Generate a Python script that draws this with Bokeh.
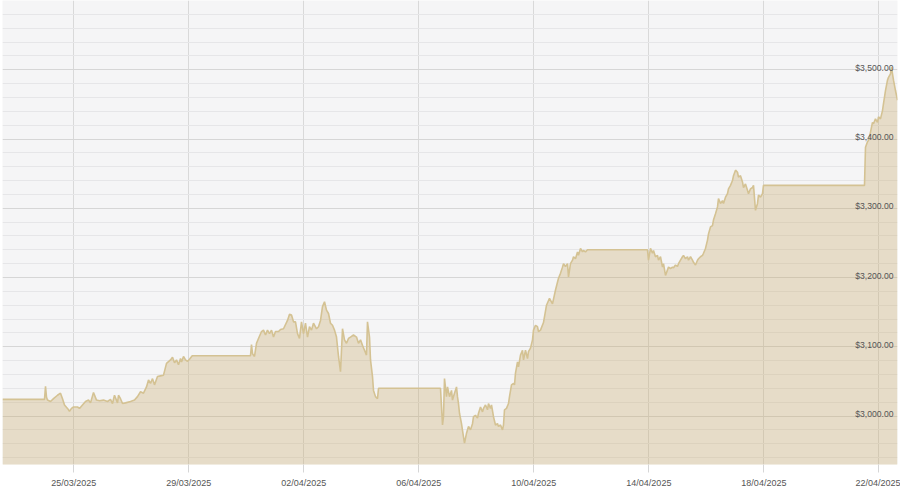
import pandas as pd
from bokeh.plotting import figure
from bokeh.models import Range1d, FixedTicker, DatetimeTickFormatter, Label, ColumnDataSource
from bokeh.embed import file_html
from bokeh.resources import INLINE

# ---------------- data ----------------
base_date = "2025-03-22"
# time of each sample, in days after base_date
day_offset = [
    0.520, 1.981, 2.016, 2.051, 2.085, 2.190, 2.294, 2.433, 2.537, 2.607,
    2.676, 2.781, 2.850, 2.920, 2.990, 3.129, 3.198, 3.302, 3.407, 3.511,
    3.581, 3.685, 3.789, 3.894, 4.033, 4.172, 4.276, 4.346, 4.415, 4.520,
    4.554, 4.624, 4.694, 4.798, 4.972, 5.111, 5.215, 5.320, 5.424, 5.528,
    5.598, 5.667, 5.737, 5.806, 5.911, 6.015, 6.120, 6.224, 6.363, 6.433,
    6.502, 6.572, 6.641, 6.711, 6.746, 6.815, 6.885, 6.954, 7.024, 7.118,
    9.145, 9.180, 9.215, 9.284, 9.354, 9.423, 9.528, 9.597, 9.667, 9.736,
    9.806, 9.876, 9.945, 10.015, 10.119, 10.189, 10.293, 10.432, 10.502, 10.571,
    10.641, 10.710, 10.780, 10.849, 10.919, 10.988, 11.058, 11.128, 11.197, 11.267,
    11.336, 11.441, 11.510, 11.580, 11.649, 11.719, 11.788, 11.858, 11.927, 11.997,
    12.067, 12.136, 12.206, 12.275, 12.345, 12.414, 12.484, 12.553, 12.623, 12.727,
    12.832, 12.901, 12.971, 13.040, 13.110, 13.179, 13.214, 13.284, 13.319, 13.388,
    13.423, 13.492, 13.562, 13.597, 15.753, 15.823, 15.857, 15.892, 15.962, 15.997,
    16.066, 16.136, 16.170, 16.240, 16.310, 16.344, 16.379, 16.414, 16.483, 16.553,
    16.588, 16.657, 16.727, 16.796, 16.866, 16.901, 16.970, 17.040, 17.075, 17.144,
    17.214, 17.249, 17.318, 17.388, 17.422, 17.492, 17.527, 17.596, 17.666, 17.735,
    17.770, 17.840, 17.909, 17.944, 17.979, 18.048, 18.118, 18.153, 18.222, 18.292,
    18.327, 18.361, 18.431, 18.466, 18.535, 18.605, 18.640, 18.709, 18.779, 18.813,
    18.883, 18.953, 18.987, 19.057, 19.126, 19.161, 19.231, 19.335, 19.440, 19.544,
    19.648, 19.753, 19.857, 19.926, 19.996, 20.031, 20.100, 20.170, 20.205, 20.274,
    20.344, 20.379, 20.448, 20.518, 20.552, 20.622, 20.692, 20.726, 20.796, 20.865,
    22.952, 22.987, 23.056, 23.126, 23.161, 23.230, 23.300, 23.335, 23.404, 23.474,
    23.509, 23.578, 23.648, 23.682, 23.752, 23.822, 23.856, 23.926, 23.995, 24.030,
    24.100, 24.169, 24.204, 24.274, 24.343, 24.378, 24.448, 24.517, 24.552, 24.621,
    24.691, 24.726, 24.795, 24.865, 24.900, 24.969, 25.039, 25.074, 25.143, 25.213,
    25.247, 25.317, 25.387, 25.421, 25.491, 25.560, 25.595, 25.665, 25.734, 25.769,
    25.839, 25.908, 25.943, 26.013, 26.082, 26.117, 26.186, 26.256, 26.291, 26.360,
    26.430, 26.465, 26.534, 26.604, 26.639, 26.708, 26.778, 26.812, 26.882, 26.952,
    26.986, 27.056, 30.499, 30.534, 30.603, 30.638, 30.708, 30.777, 30.812, 30.881,
    30.951, 30.986, 31.055, 31.125, 31.160, 31.229, 31.299, 31.334, 31.403, 31.438,
    31.473, 31.508, 31.577, 31.647,
]
price = [
    3024, 3024, 3043, 3027, 3023, 3021, 3025, 3030, 3033, 3025,
    3016, 3011, 3007, 3011, 3013, 3013, 3011, 3016, 3021, 3023,
    3019, 3034, 3023, 3022, 3023, 3021, 3024, 3018, 3030, 3019,
    3030, 3025, 3018, 3019, 3021, 3023, 3028, 3035, 3033, 3042,
    3052, 3047, 3054, 3045, 3057, 3058, 3059, 3076, 3081, 3085,
    3077, 3081, 3074, 3083, 3078, 3086, 3081, 3079, 3082, 3087,
    3087, 3103, 3090, 3086, 3105, 3112, 3122, 3124, 3117, 3124,
    3119, 3124, 3114, 3122, 3122, 3125, 3126, 3138, 3147, 3146,
    3136, 3136, 3119, 3112, 3136, 3119, 3134, 3114, 3129, 3124,
    3134, 3126, 3129, 3138, 3158, 3165, 3153, 3148, 3134, 3131,
    3124, 3114, 3086, 3064, 3126, 3110, 3105, 3112, 3114, 3117,
    3114, 3105, 3110, 3102, 3095, 3088, 3136, 3114, 3081, 3057,
    3037, 3028, 3025, 3040, 3040, 2987, 2999, 3054, 3028, 3042,
    3028, 3037, 3023, 3033, 3042, 3028, 3018, 3004, 2989, 2970,
    2961, 2975, 2985, 2980, 2989, 2999, 3001, 2997, 3004, 3013,
    3006, 3011, 3016, 3009, 3018, 3011, 3016, 2999, 2987, 2989,
    2985, 2987, 2980, 2987, 3009, 3011, 3018, 3028, 3045, 3047,
    3045, 3062, 3078, 3071, 3088, 3095, 3081, 3095, 3083, 3093,
    3098, 3110, 3124, 3131, 3129, 3122, 3124, 3135, 3160, 3170,
    3162, 3182, 3199, 3206, 3215, 3220, 3216, 3220, 3201, 3220,
    3225, 3230, 3227, 3237, 3232, 3242, 3237, 3239, 3237, 3240,
    3240, 3225, 3242, 3235, 3239, 3230, 3232, 3225, 3230, 3215,
    3220, 3203, 3211, 3215, 3213, 3215, 3214, 3218, 3216, 3220,
    3225, 3230, 3232, 3227, 3230, 3225, 3230, 3225, 3222, 3218,
    3225, 3227, 3230, 3232, 3235, 3242, 3254, 3263, 3273, 3275,
    3283, 3292, 3302, 3314, 3307, 3311, 3307, 3316, 3321, 3328,
    3333, 3340, 3347, 3355, 3352, 3345, 3347, 3338, 3330, 3335,
    3326, 3321, 3328, 3330, 3333, 3297, 3307, 3319, 3316, 3321,
    3333, 3333, 3333, 3388, 3396, 3398, 3410, 3424, 3422, 3429,
    3424, 3432, 3429, 3441, 3451, 3470, 3485, 3489, 3494, 3504,
    3494, 3485, 3470, 3456,
]

x_tick_labels = ["25/03/2025", "29/03/2025", "02/04/2025", "06/04/2025",
                 "10/04/2025", "14/04/2025", "18/04/2025", "22/04/2025"]
y_grid_ticks = [3000, 3100, 3200, 3300, 3400, 3500, 3600]
y_grid_minor = [2940, 2960, 2980, 3020, 3040, 3060, 3080, 3120, 3140, 3160, 3180,
                3220, 3240, 3260, 3280, 3320, 3340, 3360, 3380, 3420, 3440, 3460,
                3480, 3520, 3540, 3560, 3580]
y_label_values = [3000, 3100, 3200, 3300, 3400, 3500]
y_label_texts = ["$3,000.00", "$3,100.00", "$3,200.00", "$3,300.00", "$3,400.00", "$3,500.00"]

x_window_days = (0.520, 31.647)
y_window = (2930, 3600)
area_floor = 2900

# ---------------- build ----------------
base = pd.Timestamp(base_date)
times = base + pd.to_timedelta(day_offset, unit="D")
src = ColumnDataSource(dict(t=times, price=price, floor=[area_floor] * len(price)))

x_start = base + pd.Timedelta(days=x_window_days[0])
x_end = base + pd.Timedelta(days=x_window_days[1])
tick_ms = [pd.to_datetime(s, format="%d/%m/%Y").timestamp() * 1000 for s in x_tick_labels]
x_end_ms = x_end.timestamp() * 1000

p = figure(width=900, height=490, x_axis_type="datetime", y_axis_location=None,
           x_range=Range1d(x_start, x_end), y_range=Range1d(*y_window),
           output_backend="svg", toolbar_location=None,
           min_border_left=2, min_border_right=3, min_border_top=0, min_border_bottom=26,
           background_fill_color="#f5f5f6", border_fill_color="white",
           outline_line_color=None)

p.varea(x="t", y1="floor", y2="price", source=src, fill_color="#c9a96a", fill_alpha=0.33)
p.line(x="t", y="price", source=src, line_color="#d4c293", line_width=1.6)

ticker = FixedTicker(ticks=tick_ms)
p.xaxis.ticker = ticker
p.xaxis.formatter = DatetimeTickFormatter(
    milliseconds="%d/%m/%Y", seconds="%d/%m/%Y", minsec="%d/%m/%Y", minutes="%d/%m/%Y",
    hourmin="%d/%m/%Y", hours="%d/%m/%Y", days="%d/%m/%Y", months="%d/%m/%Y", years="%d/%m/%Y")
p.xaxis.axis_line_color = None
p.xaxis.major_tick_line_color = "#d6d6d6"
p.xaxis.major_tick_out = 8
p.xaxis.major_tick_in = 0
p.xaxis.minor_tick_line_color = None
p.xaxis.major_label_standoff = 5
p.xaxis.major_label_text_font = "Liberation Sans"
p.xaxis.major_label_text_font_size = "9px"
p.xaxis.major_label_text_color = "#555555"

p.xgrid.ticker = ticker
p.xgrid.grid_line_color = "#d9d9d9"
p.ygrid.ticker = FixedTicker(ticks=y_grid_ticks, minor_ticks=y_grid_minor)
p.ygrid.grid_line_color = "#d6d6d6"
p.ygrid.minor_grid_line_color = "#e6e6e8"

for v, txt in zip(y_label_values, y_label_texts):
    p.add_layout(Label(x=x_end_ms, y=v, text=txt, text_align="right",
                       text_baseline="alphabetic", x_offset=-4, y_offset=2,
                       text_font="Liberation Sans", text_font_size="8.6px",
                       text_color="#555555"))

open("out.html", "w").write(file_html(p, INLINE))
